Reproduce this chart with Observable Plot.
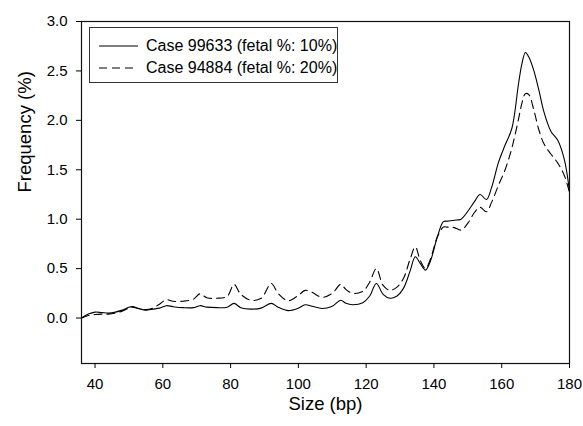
<!DOCTYPE html>
<html>
<head>
<meta charset="utf-8">
<script src="https://cdn.jsdelivr.net/npm/d3@7"></script>
<script src="https://cdn.jsdelivr.net/npm/@observablehq/plot@0.6"></script>
<style>
  html, body { margin: 0; padding: 0; background: #fff; }
  #wrap { position: relative; width: 583px; height: 426px; font-family: Arial, "Liberation Sans", sans-serif; }
  #legend { position: absolute; left: 89px; top: 27px; width: 249px; height: 56px; border: 1px solid #333; box-sizing: border-box; background: #fff; }
  .row { position: absolute; left: 0; height: 20px; display: flex; align-items: center; font-size: 16px; color: #000; white-space: nowrap; }
  .row svg { margin-left: 9px; margin-right: 8px; }
</style>
</head>
<body>
<div id="wrap"></div>
<script>
// Fragment size (bp)
const sizes = [36, 38, 40, 42, 44, 46, 48, 50, 51, 53, 55, 57, 59, 61, 63, 66, 69, 71, 73, 76, 79, 81, 83, 86, 89, 92, 94, 97, 100, 102, 104, 107, 110, 112.5, 114, 116, 119, 121, 123, 125, 127, 129, 131, 133, 134.5, 136, 137.5, 139, 141, 142.8, 144, 146, 148, 150, 152, 153.6, 155.5, 157, 159, 161, 163, 165, 166, 167, 168, 169.5, 171, 172.5, 174.5, 176.5, 178.5, 180];
// Case 99633 (fetal %: 10%) — solid line
const case99633 = [0.00, 0.04, 0.06, 0.055, 0.05, 0.06, 0.08, 0.11, 0.115, 0.095, 0.08, 0.09, 0.10, 0.125, 0.115, 0.105, 0.105, 0.125, 0.11, 0.105, 0.11, 0.148, 0.105, 0.09, 0.10, 0.148, 0.11, 0.075, 0.10, 0.134, 0.12, 0.097, 0.12, 0.18, 0.15, 0.135, 0.155, 0.22, 0.35, 0.24, 0.20, 0.22, 0.30, 0.48, 0.62, 0.55, 0.485, 0.58, 0.82, 0.975, 0.98, 0.99, 1.00, 1.08, 1.18, 1.25, 1.20, 1.32, 1.57, 1.75, 1.92, 2.38, 2.58, 2.686, 2.64, 2.50, 2.30, 2.08, 1.89, 1.80, 1.60, 1.28];
// Case 94884 (fetal %: 20%) — dashed line
const case94884 = [0.00, 0.025, 0.035, 0.04, 0.04, 0.05, 0.07, 0.10, 0.11, 0.095, 0.085, 0.10, 0.14, 0.185, 0.17, 0.17, 0.19, 0.245, 0.205, 0.20, 0.22, 0.34, 0.24, 0.18, 0.20, 0.35, 0.25, 0.175, 0.23, 0.28, 0.26, 0.21, 0.25, 0.34, 0.29, 0.25, 0.27, 0.36, 0.50, 0.33, 0.28, 0.31, 0.40, 0.60, 0.72, 0.58, 0.50, 0.60, 0.82, 0.92, 0.92, 0.915, 0.89, 0.96, 1.07, 1.12, 1.075, 1.17, 1.34, 1.50, 1.72, 2.02, 2.18, 2.27, 2.26, 2.10, 1.90, 1.76, 1.66, 1.57, 1.44, 1.27];
const seriesNames = ["Case 99633 (fetal %: 10%)", "Case 94884 (fetal %: 20%)"];
const xTicks = [40, 60, 80, 100, 120, 140, 160, 180];
const yTicks = [0.0, 0.5, 1.0, 1.5, 2.0, 2.5, 3.0];

const solidData = sizes.map((s, i) => ({size: s, freq: case99633[i]}));
const dashedData = sizes.map((s, i) => ({size: s, freq: case94884[i]}));

const chart = Plot.plot({
  width: 583,
  height: 426,
  marginLeft: 81,
  marginRight: 14,
  marginTop: 21,
  marginBottom: 63,
  style: {fontFamily: "Arial, 'Liberation Sans', sans-serif", fontSize: "15px", color: "#000", background: "#fff"},
  x: {domain: [36, 180]},
  y: {domain: [-0.46, 3.0]},
  marks: [
    Plot.frame({stroke: "#111", strokeWidth: 1.2}),
    Plot.axisX({ticks: xTicks, tickSize: 5, tickPadding: 10, label: null, fontSize: 15}),
    Plot.axisY({ticks: yTicks, tickSize: 5, tickPadding: 9, tickFormat: d3.format(".1f"), label: null, fontSize: 15}),
    Plot.text(["Size (bp)"], {frameAnchor: "bottom", dy: 46, fontSize: 18.5, fill: "#000"}),
    Plot.text(["Frequency (%)"], {frameAnchor: "left", dx: -56, rotate: -90, fontSize: 18.5, fill: "#000"}),
    Plot.line(solidData, {x: "size", y: "freq", curve: "catmull-rom", stroke: "#000", strokeWidth: 1.1}),
    Plot.line(dashedData, {x: "size", y: "freq", curve: "catmull-rom", stroke: "#000", strokeWidth: 1.1, strokeDasharray: "8,5"})
  ]
});

const wrap = document.getElementById("wrap");
wrap.appendChild(chart);

const legend = document.createElement("div");
legend.id = "legend";
const dashes = [null, "8,5"];
seriesNames.forEach((name, i) => {
  const row = document.createElement("div");
  row.className = "row";
  row.style.top = (8 + i * 21.7) + "px";
  const sw = d3.create("svg").attr("width", 39).attr("height", 4);
  sw.append("line").attr("x1", 0).attr("x2", 39).attr("y1", 2).attr("y2", 2)
    .attr("stroke", "#000").attr("stroke-width", 1.1)
    .attr("stroke-dasharray", dashes[i]);
  row.appendChild(sw.node());
  const t = document.createElement("span");
  t.textContent = name;
  row.appendChild(t);
  legend.appendChild(row);
});
wrap.appendChild(legend);
</script>
</body>
</html>
